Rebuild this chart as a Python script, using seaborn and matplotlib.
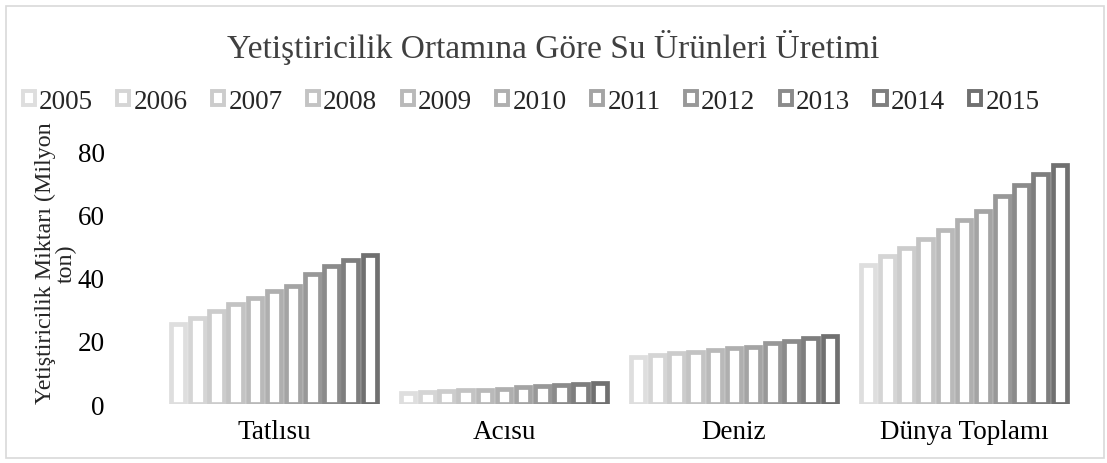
import matplotlib
import matplotlib.pyplot as plt
import pandas as pd
import seaborn as sns
from matplotlib.patches import Rectangle

matplotlib.use("Agg")

YEARS = ["2005", "2006", "2007", "2008", "2009", "2010", "2011", "2012", "2013", "2014", "2015"]
CATEGORIES = ["Tatlısu", "Acısu", "Deniz", "Dünya Toplamı"]

tatlisu = [25.4, 27.2, 29.3, 31.6, 33.4, 35.9, 37.5, 41.0, 43.6, 45.6, 47.3]
acisu = [3.4, 3.9, 4.1, 4.3, 4.5, 4.8, 5.4, 5.6, 6.1, 6.5, 6.7]
deniz = [14.8, 15.6, 16.2, 16.5, 17.0, 17.6, 18.1, 19.3, 19.8, 20.8, 21.6]
dunya = [43.9, 46.7, 49.5, 52.3, 55.0, 58.3, 61.1, 65.7, 69.4, 72.8, 75.7]

GRAYS = ["#dedede", "#d5d5d5", "#cccccc", "#c3c3c3", "#b9b9b9", "#afafaf",
         "#a4a4a4", "#989898", "#8b8b8b", "#7e7e7e", "#707070"]

FS = 19.5

rows = []
for cat, vals in zip(CATEGORIES, [tatlisu, acisu, deniz, dunya]):
    for year, v in zip(YEARS, vals):
        rows.append({"kategori": cat, "yil": year, "deger": v})
df = pd.DataFrame(rows)

sns.set_style("white")
plt.rcParams["font.family"] = ["Liberation Serif", "DejaVu Serif"]

fig = plt.figure(figsize=(11.07, 4.64), dpi=100)
ax = fig.add_axes([0.1436, 0.127, 0.8311, 0.545])

sns.barplot(
    data=df, x="kategori", y="deger", hue="yil", order=CATEGORIES,
    hue_order=YEARS, palette=GRAYS, width=11 / 12, gap=0.245,
    fill=False, linewidth=3.4, ax=ax, legend=False,
)
for p in ax.patches:
    p.set_facecolor("white")
    p.set_joinstyle("miter")

ax.set_xlim(-0.5, 3.5)
ax.set_ylim(0, 80)
ax.set_yticks([0, 20, 40, 60, 80])
ax.tick_params(axis="both", length=0, labelsize=FS, colors="black")
ax.tick_params(axis="y", pad=39)
ax.tick_params(axis="x", pad=11)
for s in ax.spines.values():
    s.set_visible(False)
ax.set_xlabel("")
ax.set_ylabel("Yetiştiricilik Miktarı (Milyon\nton)", fontsize=17.3, linespacing=0.95)
ax.yaxis.label.set_va("center")
ax.yaxis.set_label_coords(-0.112, 0.56)

fig.text(0.5, 0.897, "Yetiştiricilik Ortamına Göre Su Ürünleri Üretimi",
         ha="center", va="center", fontsize=24, color="#404040")

handles = [Rectangle((0, 0), 1, 1, facecolor="white", edgecolor=c, linewidth=2.8)
           for c in GRAYS]
fig.legend(handles, YEARS, loc="center", bbox_to_anchor=(0.4797, 0.78), ncol=11,
           frameon=False, fontsize=FS, handlelength=0.45, handleheight=0.45,
           handletextpad=0.15, columnspacing=0.9)

fig.patches.append(Rectangle((0.005, 0.011), 0.992, 0.974, transform=fig.transFigure,
                             fill=False, edgecolor="#d9d9d9", linewidth=1.2))

fig.savefig("out.png", dpi=100)
